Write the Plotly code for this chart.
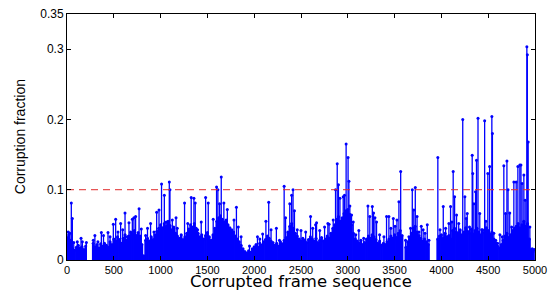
import plotly.graph_objects as go

# ---------------- data ----------------
BASE_STEP = 20
base_values = [
    0.032, 0.036, 0.028, 0.016, 0.014, 0.018, 0.021, 0.017, 0.019, 0.015,
    0.020, None, None, None, 0.024, 0.019, 0.022, 0.017, 0.023, 0.020,
    0.024, 0.021, 0.018, 0.026, 0.022, 0.030, 0.027, 0.033, 0.029, 0.024,
    0.031, 0.036, 0.028, 0.034, 0.040, 0.037, 0.042, 0.035, 0.039, 0.034,
    0.022, 0.006, 0.028, 0.031, 0.027, 0.033, 0.029, 0.036, 0.041, 0.045,
    0.050, 0.046, 0.052, 0.048, 0.055, 0.049, 0.043, 0.047, 0.038, 0.034,
    0.031, 0.036, 0.029, 0.033, 0.038, 0.044, 0.050, 0.047, 0.052, 0.045,
    0.038, 0.033, 0.036, 0.030, 0.035, 0.039, 0.033, 0.028, 0.036, 0.045,
    0.055, 0.060, 0.063, 0.058, 0.054, 0.057, 0.050, 0.046, 0.043, 0.040,
    0.034, 0.030, 0.026, 0.021, 0.016, 0.012, 0.010, 0.013, 0.011, 0.016,
    0.019, 0.022, 0.018, 0.024, 0.021, 0.026, 0.029, 0.034, 0.031, 0.027,
    0.025, 0.021, 0.024, 0.020, 0.026, 0.023, 0.028, 0.032, 0.040, 0.048,
    0.052, 0.045, 0.038, 0.034, 0.030, 0.027, 0.031, 0.028, 0.025, 0.029,
    0.033, 0.030, 0.027, 0.031, 0.025, 0.028, 0.032, 0.027, 0.030, 0.034,
    0.031, 0.038, 0.045, 0.050, 0.058, 0.062, 0.055, 0.060, 0.066, 0.070,
    0.072, 0.065, 0.050, 0.038, 0.030, 0.027, 0.024, 0.028, 0.022, 0.025,
    0.030, 0.034, 0.031, 0.036, 0.033, 0.029, 0.024, 0.027, 0.021, 0.024,
    0.022, 0.026, 0.030, 0.034, 0.031, 0.036, 0.032, 0.038, 0.042, 0.035,
    None, 0.018, 0.026, 0.030, 0.038, 0.045, 0.048, 0.040, 0.035, 0.031,
    0.027, 0.030, 0.026, 0.022, None, None, None, None, 0.030, 0.034,
    0.036, 0.031, 0.038, 0.033, 0.035, 0.030, 0.042, 0.045, 0.040, 0.038,
    0.043, 0.036, 0.040, 0.046, 0.041, 0.038, 0.044, 0.037, 0.042, 0.045,
    0.040, 0.036, 0.043, 0.039, 0.046, 0.042, 0.037, 0.040, 0.030, 0.025,
    0.020, 0.017, 0.022, 0.028, 0.034, 0.038, 0.032, 0.036, 0.042, 0.045,
    0.048, 0.052, 0.046, 0.050, 0.055, 0.048, 0.052, 0.030, 0.015, 0.012,
]

spike_frames = [
    14, 30, 46, 57, 72, 110, 150, 164, 207,
    281, 298, 330, 367, 390, 438, 460, 495, 520, 545, 573, 595, 620, 645,
    662, 698, 715, 733, 770, 794, 840, 860, 893, 929, 958, 983, 1010, 1040,
    1060, 1093, 1100, 1125, 1165, 1178, 1256, 1290, 1327, 1356, 1370, 1395,
    1434, 1481, 1509, 1562, 1598, 1612, 1630, 1648, 1676, 1713, 1784, 1810,
    1830, 1860, 1950, 2035, 2060, 2090, 2125, 2155, 2180, 2237, 2270, 2320,
    2335, 2380, 2400, 2415, 2430, 2460, 2500, 2550, 2602, 2625, 2656, 2666,
    2700, 2752, 2787, 2800, 2844, 2869, 2887, 2900, 2916, 2951, 2965, 2982,
    3003, 3012, 3022, 3040, 3058, 3085, 3118, 3170, 3215, 3235, 3262, 3275,
    3290, 3307, 3340, 3386, 3414, 3439, 3460, 3486, 3505, 3525, 3546, 3565,
    3617, 3653, 3670, 3689, 3705, 3721, 3740, 3760, 3785, 3805, 3825, 3849,
    3867, 3962, 3985, 4020, 4045, 4080, 4098, 4112, 4126, 4141, 4162, 4185,
    4228, 4251, 4265, 4276, 4300, 4329, 4335, 4347, 4365, 4375, 4391, 4410,
    4430, 4462, 4475, 4496, 4515, 4539, 4545, 4560, 4580, 4600, 4625, 4650,
    4667, 4685, 4700, 4712, 4730, 4750, 4774, 4799, 4817, 4838, 4850, 4862,
    4881, 4895, 4913, 4918, 4927, 4945, 4970, 4990,
]
spike_values = [
    0.040, 0.038, 0.081, 0.059, 0.025, 0.026, 0.031, 0.026, 0.025,
    0.028, 0.035, 0.026, 0.039, 0.035, 0.039, 0.033, 0.051, 0.058, 0.040, 0.052, 0.043, 0.067, 0.033,
    0.053, 0.058, 0.060, 0.062, 0.073, 0.044, 0.035, 0.045, 0.052, 0.040, 0.068, 0.071, 0.108, 0.092,
    0.054, 0.111, 0.100, 0.057, 0.060, 0.045, 0.081, 0.052, 0.089, 0.088, 0.081, 0.043,
    0.054, 0.089, 0.081, 0.058, 0.104, 0.100, 0.080, 0.118, 0.081, 0.072, 0.057, 0.075,
    0.047, 0.033, 0.020, 0.033, 0.030, 0.037, 0.055, 0.082, 0.043, 0.045, 0.028, 0.105,
    0.060, 0.080, 0.092, 0.100, 0.070, 0.043, 0.042, 0.040, 0.062, 0.045, 0.050, 0.053,
    0.042, 0.047, 0.052, 0.051, 0.057, 0.100, 0.137, 0.107, 0.088, 0.090, 0.092, 0.165,
    0.146, 0.112, 0.077, 0.064, 0.054, 0.036, 0.042, 0.031, 0.077, 0.062, 0.076, 0.067,
    0.060, 0.054, 0.036, 0.033, 0.062, 0.062, 0.045, 0.059, 0.048, 0.057, 0.083, 0.126,
    0.028, 0.033, 0.045, 0.100, 0.071, 0.103, 0.062, 0.040, 0.048, 0.043, 0.038, 0.050,
    0.028, 0.146, 0.043, 0.076, 0.045, 0.052, 0.076, 0.054, 0.126, 0.090, 0.064, 0.052,
    0.200, 0.090, 0.059, 0.066, 0.047, 0.149, 0.123, 0.080, 0.097, 0.142, 0.2015, 0.066,
    0.043, 0.198, 0.055, 0.123, 0.133, 0.204, 0.180, 0.038, 0.028, 0.024, 0.036, 0.033,
    0.134, 0.066, 0.141, 0.100, 0.067, 0.047, 0.111, 0.111, 0.133, 0.135, 0.135, 0.109,
    0.121, 0.085, 0.3035, 0.292, 0.168, 0.047, 0.016, 0.015,
]

THRESHOLD = 0.1
x_ticks = [0, 500, 1000, 1500, 2000, 2500, 3000, 3500, 4000, 4500, 5000]
y_ticks = [0, 0.1, 0.2, 0.3, 0.35]
y_tick_text = ["0", "0.1", "0.2", "0.3", "0.35"]
x_title = "Corrupted frame sequence"
y_title = "Corruption fraction"

# ---------------- build stems ----------------
bx, by, bsx, bsy = [], [], [], []
for i, v in enumerate(base_values):
    if v is not None:
        f = i * BASE_STEP
        bx.append(f); by.append(v)
        bsx += [f, f, None]; bsy += [0, v, None]

ssx, ssy = [], []
for f, v in zip(spike_frames, spike_values):
    ssx += [f, f, None]
    ssy += [0, v, None]

BLUE = "#0000ff"
fig = go.Figure()
fig.add_trace(go.Scatter(x=bsx, y=bsy, mode="lines",
                         line=dict(color=BLUE, width=2.6), hoverinfo="skip"))
fig.add_trace(go.Scatter(x=ssx, y=ssy, mode="lines",
                         line=dict(color=BLUE, width=1.3), hoverinfo="skip"))
fig.add_trace(go.Scatter(x=bx + spike_frames, y=by + spike_values, mode="markers",
                         marker=dict(color=BLUE, size=3, line=dict(width=0))))
fig.add_trace(go.Scatter(x=[0, 5000], y=[THRESHOLD, THRESHOLD], mode="lines",
                         line=dict(color="#e02a2a", width=1, dash="7px,5px")))

font_family = "Liberation Sans, Arial, Helvetica, sans-serif"
fig.update_layout(
    width=553, height=291,
    margin=dict(l=67, r=18, t=14, b=31),
    paper_bgcolor="white", plot_bgcolor="white",
    showlegend=False,
    font=dict(family=font_family, color="black", size=11),
    annotations=[
        dict(text=x_title, xref="paper", yref="paper", x=0.5, y=-0.088,
             xanchor="center", yanchor="middle", showarrow=False,
             font=dict(size=16.5, family="DejaVu Sans, sans-serif")),
        dict(text=y_title, xref="paper", yref="paper", x=-0.1, y=0.5,
             xanchor="center", yanchor="middle", showarrow=False,
             textangle=-90, font=dict(size=14)),
    ],
)
fig.update_xaxes(
    range=[0, 5000], tickvals=x_ticks, automargin=False,
    ticks="inside", ticklen=4, tickcolor="black",
    showline=True, linecolor="black", linewidth=1, mirror="allticks",
    showgrid=False, zeroline=False, tickfont=dict(size=11),
)
fig.update_yaxes(
    range=[0, 0.35], tickvals=y_ticks, ticktext=y_tick_text, automargin=False,
    ticks="inside", ticklen=4, tickcolor="black",
    showline=True, linecolor="black", linewidth=1, mirror="allticks",
    showgrid=False, zeroline=False, tickfont=dict(size=12),
)

fig.write_html("out.html", config={"displayModeBar": False},
               post_script="document.body.style.margin='0';")
